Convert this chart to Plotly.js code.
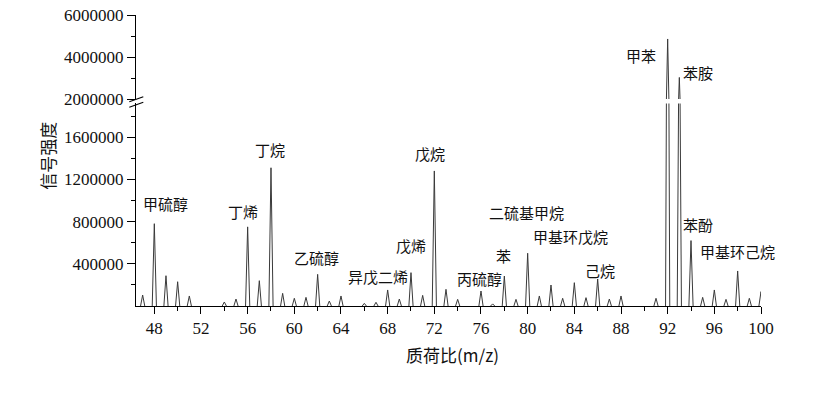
<!DOCTYPE html>
<html>
<head>
<meta charset="utf-8">
<script src="https://cdn.plot.ly/plotly-3.0.1.min.js"></script>
<style>html,body{margin:0;padding:0;background:#fff;}#chart{width:815px;height:409px;}</style>
</head>
<body>
<div id="chart"></div>
<script>
// ---- data ----
const mz = [47,48,49,50,51,54,55,56,57,58,59,60,61,62,63,64,66,67,68,69,70,71,72,73,74,76,77,78,79,80,81,82,83,84,85,86,87,88,91,92,93,94,95,96,97,98,99,100];
const intensity = [104000,780000,287000,230000,95000,38000,66000,750000,240000,1310000,120000,73000,82000,300000,47000,95000,25000,35000,152000,66000,316000,101000,1280000,158000,63000,142000,20000,284000,63000,500000,95000,199000,73000,221000,79000,256000,66000,95000,73000,4860000,3030000,620000,82000,152000,63000,332000,73000,136000];

const labelNames = ["甲硫醇","丁烯","丁烷","乙硫醇","异戊二烯","戊烯","戊烷","丙硫醇","苯","二硫基甲烷","甲基环戊烷","己烷","苯酚","甲基环己烷","甲苯","苯胺"];

const lowerTickVals = [400000,800000,1200000,1600000];
const lowerTickText = ["400000","800000","1200000","1600000"];
const upperTickVals = [2000000,4000000,6000000];
const upperTickText = ["2000000","4000000","6000000"];

// ---- label placement (layout) ----
const labelPos = [
  {x:49.0, y:976000, ax:'y'},
  {x:55.6, y:891000, ax:'y'},
  {x:57.92, y:1479000, ax:'y'},
  {x:61.94, y:455000, ax:'y'},
  {x:67.13, y:284000, ax:'y'},
  {x:69.96, y:569000, ax:'y'},
  {x:71.63, y:1450000, ax:'y'},
  {x:75.83, y:265000, ax:'y'},
  {x:77.97, y:474000, ax:'y'},
  {x:79.86, y:882000, ax:'y'},
  {x:83.63, y:654000, ax:'y'},
  {x:86.2, y:341000, ax:'y'},
  {x:94.6, y:777000, ax:'y'},
  {x:97.95, y:521000, ax:'y'},
  {x:89.71, y:4095000, ax:'y2'},
  {x:94.6, y:3286000, ax:'y2'}
];

// stick spectrum drawn as narrow triangles
const halfW = 0.18;
const px = [], py = [];
mz.forEach((m, i) => {
  px.push(m - halfW, m, m + halfW, null);
  py.push(0, intensity[i], 0, null);
});

const lineStyle = {color:'#3a3a3a', width:1};
const traces = [
  {x:px, y:py, type:'scatter', mode:'lines', line:lineStyle, xaxis:'x', yaxis:'y', hoverinfo:'skip', showlegend:false},
  {x:px, y:py, type:'scatter', mode:'lines', line:lineStyle, xaxis:'x', yaxis:'y2', hoverinfo:'skip', showlegend:false}
];

const tickFont = {family:'"Liberation Serif", "Times New Roman", serif', size:17, color:'#111'};
const cjk = '"Noto Sans CJK SC", sans-serif';

const annotations = labelNames.map((t, i) => ({
  text:t, x:labelPos[i].x, y:labelPos[i].y, xref:'x', yref:labelPos[i].ax,
  showarrow:false, xanchor:'center', yanchor:'middle',
  font:{family:cjk, size:15, color:'#111'}
}));
annotations.push({
  text:'信号强度', xref:'paper', yref:'paper', x:-0.1416, y:0.515, textangle:-90,
  showarrow:false, xanchor:'center', yanchor:'middle', font:{family:cjk, size:17, color:'#111'}
});
annotations.push({
  text:'质荷比(m/z)', xref:'paper', yref:'paper', x:0.5056, y:-0.168,
  showarrow:false, xanchor:'center', yanchor:'middle', font:{family:cjk, size:17, color:'#111'}
});

const layout = {
  width:815, height:409,
  margin:{l:136, r:54, t:15, b:103},
  paper_bgcolor:'#fff', plot_bgcolor:'#fff',
  showlegend:false,
  xaxis:{
    range:[46.43,100], anchor:'y', showline:true, linecolor:'#000', linewidth:1,
    ticks:'outside', ticklen:7, tickcolor:'#000', tick0:48, dtick:4,
    minor:{dtick:2, tick0:48, ticks:'outside', ticklen:4, tickcolor:'#000'},
    tickfont:tickFont, showgrid:false, zeroline:false
  },
  yaxis:{
    domain:[0,0.696], range:[0,1919500], anchor:'x',
    tickmode:'array', tickvals:lowerTickVals, ticktext:lowerTickText,
    minor:{tickmode:'array', tickvals:[200000,600000,1000000,1400000,1800000], ticks:'outside', ticklen:4, tickcolor:'#000'},
    showline:true, linecolor:'#000', linewidth:1, ticks:'outside', ticklen:8, tickcolor:'#000',
    tickfont:tickFont, showgrid:false, zeroline:false
  },
  yaxis2:{
    domain:[0.711,1], range:[2000000,6000000], anchor:'x',
    tickmode:'array', tickvals:upperTickVals, ticktext:upperTickText,
    minor:{tickmode:'array', tickvals:[3000000,5000000], ticks:'outside', ticklen:4, tickcolor:'#000'},
    showline:true, linecolor:'#000', linewidth:1, ticks:'outside', ticklen:8, tickcolor:'#000',
    tickfont:tickFont, showgrid:false, zeroline:false
  },
  shapes:[
    {type:'line', xref:'paper', yref:'paper', x0:-0.0107, y0:0.702, x1:0.0117, y1:0.719, line:{color:'#000', width:1.2}},
    {type:'line', xref:'paper', yref:'paper', x0:-0.0107, y0:0.683, x1:0.0117, y1:0.700, line:{color:'#000', width:1.2}}
  ],
  annotations:annotations
};

Plotly.newPlot('chart', traces, layout, {staticPlot:true, displayModeBar:false});
</script>
</body>
</html>
